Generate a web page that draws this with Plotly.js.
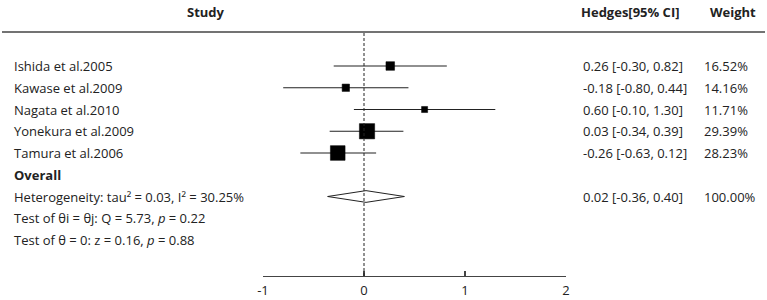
<!DOCTYPE html>
<html>
<head>
<meta charset="utf-8">
<script src="https://cdn.plot.ly/plotly-3.0.1.min.js"></script>
<style>html,body{margin:0;padding:0;background:#fff;}#chart{width:767px;height:300px;}</style>
</head>
<body>
<div id="chart"></div>
<script>
// ---- data ----
const studies = ["Ishida et al.2005", "Kawase et al.2009", "Nagata et al.2010", "Yonekura et al.2009", "Tamura et al.2006"];
const estimates = [0.26, -0.18, 0.60, 0.03, -0.26];
const ciLower = [-0.30, -0.80, -0.10, -0.34, -0.63];
const ciUpper = [0.82, 0.44, 1.30, 0.39, 0.12];
const weights = [16.52, 14.16, 11.71, 29.39, 28.23];
const overallLabel = "Overall";
const overallEst = 0.02;
const overallLower = -0.36;
const overallUpper = 0.40;
const overallWeight = 100.00;
const statLines = [
  "Heterogeneity: tau\u00b2 = 0.03, I\u00b2 = 30.25%",
  "Test of \u03b8i = \u03b8j: Q = 5.73, <i>p</i> = 0.22",
  "Test of \u03b8 = 0: z = 0.16, <i>p</i> = 0.88"
];
const headers = ["Study", "Hedges[95% CI]", "Weight"];
const tickVals = [-1, 0, 1, 2];
const tickText = ["-1", "0", "1", "2"];

// ---- layout geometry ----
const W = 767, H = 300;
const L = 263, R = 566, T = 32, B = 276;
const pw = R - L, ph = B - T;
const px2x = p => (p - L) / pw;
const px2y = p => 1 - (p - T) / ph;
const row0 = 66, rowStep = 21.75;
const yTop = (T - row0) / rowStep, yBot = (B - row0) / rowStep;

const font = {family: "Open Sans, Noto Sans, sans-serif", size: 13, color: "#222"};
const fmt = v => v.toFixed(2);

const rows = studies.map((s, i) => i);
const overallRow = studies.length;
const diamondHalf = 0.27;

const traces = [];
// CI lines via error bars
traces.push({
  type: "scatter", mode: "markers",
  x: estimates, y: rows,
  marker: {symbol: "square", color: "rgba(0,0,0,0)", size: 1, line: {width: 0}},
  error_x: {type: "data", symmetric: false,
    array: ciUpper.map((u, i) => u - estimates[i]),
    arrayminus: ciLower.map((l, i) => estimates[i] - l),
    color: "#222", thickness: 1.1, width: 0},
  cliponaxis: false, hoverinfo: "skip", showlegend: false
});
// weighted squares
traces.push({
  type: "scatter", mode: "markers",
  x: estimates, y: rows,
  marker: {symbol: "square", color: "rgb(0,0,0)", opacity: 1, size: weights.map(w => w * 0.52), line: {width: 0.5, color: "rgb(0,0,0)"}},
  cliponaxis: false, hoverinfo: "skip", showlegend: false
});
// Overall diamond
const dy = overallRow + 1;
traces.push({
  type: "scatter", mode: "lines",
  x: [overallLower, overallEst, overallUpper, overallEst, overallLower],
  y: [dy, dy - diamondHalf, dy, dy + diamondHalf, dy],
  fill: "toself", fillcolor: "#fff",
  line: {color: "#222", width: 1},
  hoverinfo: "skip", showlegend: false
});

const ann = [];
const headerX = [206, 630, 733];
headers.forEach((h, i) => ann.push({
  text: "<b>" + h + "</b>", xref: "paper", yref: "paper",
  x: px2x(headerX[i]), y: px2y(12), xanchor: "center", yanchor: "middle",
  showarrow: false, font: font
}));
studies.forEach((s, i) => {
  ann.push({text: s, xref: "paper", yref: "y", x: px2x(12), y: rows[i], xanchor: "left", yanchor: "middle", showarrow: false, font: font});
  ann.push({text: fmt(estimates[i]) + " [" + fmt(ciLower[i]) + ", " + fmt(ciUpper[i]) + "]", xref: "paper", yref: "y", x: px2x(581), y: rows[i], xanchor: "left", yanchor: "middle", showarrow: false, font: font});
  ann.push({text: fmt(weights[i]) + "%", xref: "paper", yref: "y", x: px2x(702), y: rows[i], xanchor: "left", yanchor: "middle", showarrow: false, font: font});
});
ann.push({text: "<b>" + overallLabel + "</b>", xref: "paper", yref: "y", x: px2x(12), y: overallRow, xanchor: "left", yanchor: "middle", showarrow: false, font: font});
statLines.forEach((t, i) => ann.push({text: t, xref: "paper", yref: "y", x: px2x(12), y: overallRow + 1 + i, xanchor: "left", yanchor: "middle", showarrow: false, font: font}));
ann.push({text: fmt(overallEst) + " [" + fmt(overallLower) + ", " + fmt(overallUpper) + "]", xref: "paper", yref: "y", x: px2x(581), y: dy, xanchor: "left", yanchor: "middle", showarrow: false, font: font});
ann.push({text: overallWeight.toFixed(2) + "%", xref: "paper", yref: "y", x: px2x(702), y: dy, xanchor: "left", yanchor: "middle", showarrow: false, font: font});

const shapes = [
  {type: "line", xref: "paper", yref: "paper", x0: px2x(2), x1: px2x(765), y0: 1, y1: 1, line: {color: "#444", width: 1.3}},
  {type: "line", xref: "x", yref: "paper", x0: 0, x1: 0, y0: 0, y1: 1, line: {color: "#222", width: 1, dash: "3px,2px"}}
];

const layout = {
  width: W, height: H,
  margin: {l: L, r: W - R, t: T, b: H - B, pad: 0},
  paper_bgcolor: "#fff", plot_bgcolor: "#fff",
  font: font,
  showlegend: false,
  xaxis: {range: [-1, 2], tickvals: tickVals, ticktext: tickText, showgrid: false, zeroline: false,
    showline: true, linecolor: "#444", linewidth: 1.3, ticks: "inside", ticklen: 5, tickcolor: "#444", tickwidth: 1.3,
    ticklabelstandoff: 2,
    tickfont: {family: font.family, size: 13, color: "#222"}, fixedrange: true},
  yaxis: {range: [yBot, yTop], showgrid: false, zeroline: false, showticklabels: false, showline: false, ticks: "", fixedrange: true},
  annotations: ann,
  shapes: shapes
};

Plotly.newPlot("chart", traces, layout, {displayModeBar: false, staticPlot: true});
</script>
</body>
</html>
